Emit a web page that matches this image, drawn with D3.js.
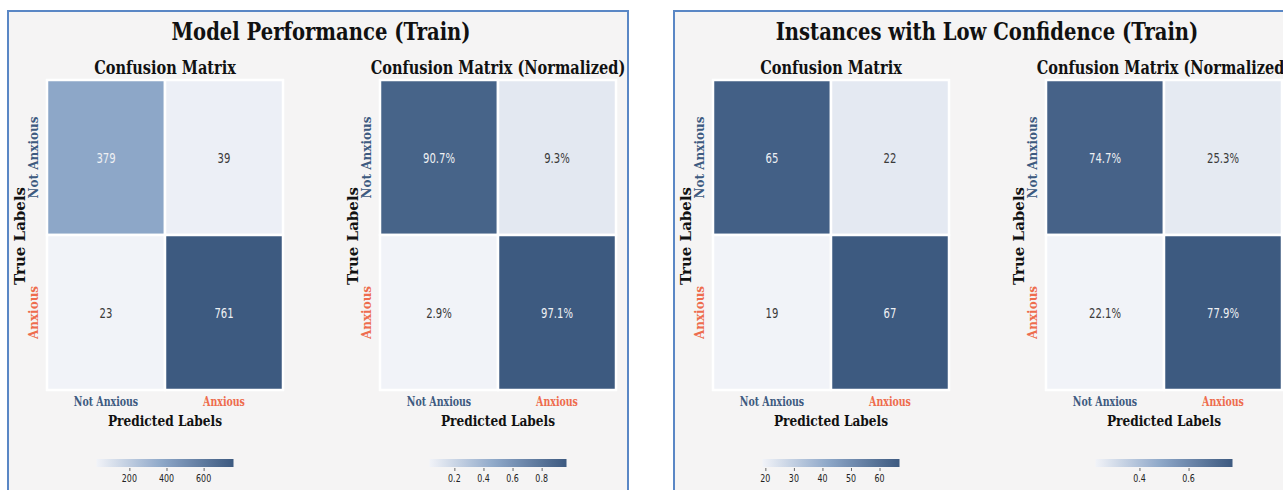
<!DOCTYPE html>
<html>
<head>
<meta charset="utf-8">
<script src="https://cdn.jsdelivr.net/npm/d3@7"></script>
<style>
  html, body { margin: 0; padding: 0; background: #ffffff; }
  svg { display: block; }
</style>
</head>
<body>
<script>
// ---- data ----
const classLabels = ["Not Anxious", "Anxious"];
const classColors = ["#3d5a80", "#ee6c4d"];

const panelTitles = ["Model Performance (Train)", "Instances with Low Confidence (Train)"];
const matrixTitles = ["Confusion Matrix", "Confusion Matrix (Normalized)"];

const trainCounts = [[379, 39], [23, 761]];
const trainNormalized = [[0.907, 0.093], [0.029, 0.971]];
const lowConfCounts = [[65, 22], [19, 67]];
const lowConfNormalized = [[0.747, 0.253], [0.221, 0.779]];

const trainCountTicks = [200, 400, 600];
const trainNormTicks = [0.2, 0.4, 0.6, 0.8];
const lowConfCountTicks = [20, 30, 40, 50, 60];
const lowConfNormTicks = [0.4, 0.6];

// ---- layout ----
const W = 1283, H = 490;
const panelXs = [8, 674];
const panelTop = 11, panelW = 620;
const matrixOffsets = [39, 372];
const matrixW = 236, matrixTop = 80, matrixH = 310;
const serif = "'DejaVu Serif', serif";
const sans = "'DejaVu Sans', sans-serif";
const serifSquash = 0.786, sansSquash = 0.72;

const svg = d3.select("body").append("svg").attr("width", W).attr("height", H);

// horizontally condensed text, centred on x
function hText(parent, x, y, str, o) {
  const g = parent.append("g").attr("transform", `translate(${x},${y}) scale(${o.squash},1)`);
  g.append("text")
    .attr("text-anchor", "middle")
    .attr("dominant-baseline", o.baseline || "alphabetic")
    .attr("font-family", o.family)
    .attr("font-weight", o.weight || "normal")
    .attr("font-size", o.size)
    .attr("fill", o.fill || "#111")
    .text(str);
  return g;
}
function vText(parent, x, y, str, o) {
  parent.append("text")
    .attr("transform", `translate(${x},${y}) rotate(-90)`)
    .attr("text-anchor", "middle")
    .attr("font-family", o.family)
    .attr("font-weight", o.weight || "normal")
    .attr("font-size", o.size)
    .attr("fill", o.fill || "#111")
    .text(str);
}

const defs = svg.append("defs");
let gradId = 0;

function drawMatrix(parent, left, values, ticks, fmt, title) {
  const flat = values.flat();
  const lo = d3.min(flat), hi = d3.max(flat);
  const color = d3.scaleLinear()
    .domain([lo, lo + (hi - lo) * 0.48, hi])
    .range(["#f1f3f8", "#8da7c8", "#3d5a80"])
    .interpolate(d3.interpolateLab);

  const x = d3.scaleBand().domain(d3.range(2)).range([left, left + matrixW]);
  const y = d3.scaleBand().domain(d3.range(2)).range([matrixTop, matrixTop + matrixH]);

  const cells = [];
  values.forEach((row, i) => row.forEach((v, j) => cells.push({ i, j, v })));

  parent.selectAll(null).data(cells).enter().append("rect")
    .attr("x", d => x(d.j)).attr("y", d => y(d.i))
    .attr("width", x.bandwidth()).attr("height", y.bandwidth())
    .attr("fill", d => color(d.v))
    .attr("stroke", "#ffffff").attr("stroke-width", 2.5);

  cells.forEach(d => {
    const dark = d3.lab(color(d.v)).l < 75;
    hText(parent, x(d.j) + x.bandwidth() / 2, y(d.i) + y.bandwidth() / 2 + 1, fmt(d.v), {
      family: sans, size: 14, squash: sansSquash, baseline: "central",
      fill: dark ? "#eef0f3" : "#3a3a3a"
    });
  });

  const cx = left + matrixW / 2;
  hText(parent, cx, 74, title, { family: serif, weight: "bold", size: 18.5, squash: serifSquash });

  // tick labels
  classLabels.forEach((lab, k) => {
    hText(parent, x(k) + x.bandwidth() / 2, 406, lab,
      { family: serif, weight: "bold", size: 12, squash: serifSquash, fill: classColors[k] });
    vText(parent, left - 9, y(k) + y.bandwidth() / 2, lab,
      { family: serif, weight: "bold", size: 12, fill: classColors[k] });
  });
  hText(parent, cx, 426, "Predicted Labels", { family: serif, weight: "bold", size: 15.5, squash: serifSquash });
  vText(parent, left - 22, matrixTop + matrixH / 2 + 1, "True Labels", { family: serif, weight: "bold", size: 15 });

  // colour bar
  const cbW = 137, cbX = cx - cbW / 2, cbY = 459, cbH = 8;
  const id = "cb" + (gradId++);
  const grad = defs.append("linearGradient").attr("id", id);
  d3.range(0, 1.0001, 0.05).forEach(t => {
    grad.append("stop").attr("offset", t).attr("stop-color", color(lo + (hi - lo) * t));
  });
  parent.append("rect").attr("x", cbX).attr("y", cbY).attr("width", cbW).attr("height", cbH)
    .attr("fill", `url(#${id})`);
  const cs = d3.scaleLinear().domain([lo, hi]).range([cbX, cbX + cbW]);
  const axis = parent.append("g").attr("transform", `translate(0,${cbY + cbH + 1})`)
    .call(d3.axisBottom(cs).tickValues(ticks).tickSize(3).tickFormat(() => ""));
  axis.select(".domain").remove();
  axis.selectAll(".tick line").attr("stroke", "#666");
  ticks.forEach(t => {
    hText(parent, cs(t), 482, String(t), { family: sans, size: 11, squash: sansSquash, fill: "#222" });
  });
}

const panels = [
  { counts: trainCounts, norm: trainNormalized, cTicks: trainCountTicks, nTicks: trainNormTicks },
  { counts: lowConfCounts, norm: lowConfNormalized, cTicks: lowConfCountTicks, nTicks: lowConfNormTicks }
];

panels.forEach((p, pi) => {
  const px = panelXs[pi];
  const g = svg.append("g");
  g.append("rect").attr("x", px).attr("y", panelTop).attr("width", panelW).attr("height", H)
    .attr("fill", "#f5f4f4").attr("stroke", "#5a87c5").attr("stroke-width", 2);
  hText(g, px + panelW / 2 + 3, 40, panelTitles[pi], { family: serif, weight: "bold", size: 24.5, squash: 0.8 });
  drawMatrix(g, px + matrixOffsets[0], p.counts, p.cTicks, d3.format("d"), matrixTitles[0]);
  drawMatrix(g, px + matrixOffsets[1], p.norm, p.nTicks, d3.format(".1%"), matrixTitles[1]);
});
</script>
</body>
</html>
